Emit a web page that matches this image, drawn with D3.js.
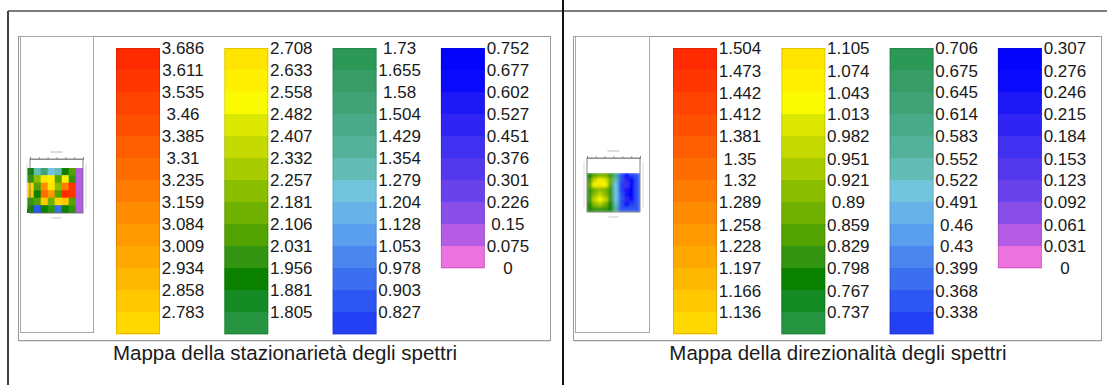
<!DOCTYPE html>
<html>
<head>
<meta charset="utf-8">
<script src="https://cdn.jsdelivr.net/npm/d3@7"></script>
<style>
  html, body { margin: 0; padding: 0; background: #fff; }
  svg { display: block; }
  text { font-family: "Liberation Sans", Arial, sans-serif; fill: #1a1a1a; }
</style>
</head>
<body>
<svg id="chart" width="1107" height="385"></svg>
<script>
// ---- Legend tick labels (top of each colour band), four columns per panel ----
const stazLabels = [
  ["3.686","3.611","3.535","3.46","3.385","3.31","3.235","3.159","3.084","3.009","2.934","2.858","2.783"],
  ["2.708","2.633","2.558","2.482","2.407","2.332","2.257","2.181","2.106","2.031","1.956","1.881","1.805"],
  ["1.73","1.655","1.58","1.504","1.429","1.354","1.279","1.204","1.128","1.053","0.978","0.903","0.827"],
  ["0.752","0.677","0.602","0.527","0.451","0.376","0.301","0.226","0.15","0.075","0"]
];
const dirLabels = [
  ["1.504","1.473","1.442","1.412","1.381","1.35","1.32","1.289","1.258","1.228","1.197","1.166","1.136"],
  ["1.105","1.074","1.043","1.013","0.982","0.951","0.921","0.89","0.859","0.829","0.798","0.767","0.737"],
  ["0.706","0.675","0.645","0.614","0.583","0.552","0.522","0.491","0.46","0.43","0.399","0.368","0.338"],
  ["0.307","0.276","0.246","0.215","0.184","0.153","0.123","0.092","0.061","0.031","0"]
];
// number of colour bands in each legend column
const bandsPerColumn = [13, 13, 13, 10];

// ---- Map values (rows top to bottom) ----
const stazMap = [
  [1.95, 1.30, 1.55, 1.25, 1.35, 1.95, 2.05, 0.10],
  [2.00, 2.25, 2.65, 2.60, 2.05, 2.60, 2.00, 0.10],
  [2.75, 2.10, 3.10, 2.70, 2.20, 3.20, 3.60, 0.10],
  [2.80, 1.95, 3.25, 3.05, 2.10, 3.65, 3.55, 0.10],
  [2.00, 2.05, 2.80, 2.15, 2.75, 2.85, 2.05, 0.10],
  [1.90, 0.90, 1.95, 2.00, 0.95, 1.95, 2.00, 0.10]
];
const dirMap = [
  [0.78, 0.84, 0.88, 0.86, 0.80, 0.60, 0.34, 0.30, 0.32, 0.34],
  [0.82, 0.98, 1.06, 1.00, 0.86, 0.55, 0.34, 0.20, 0.30, 0.34],
  [0.84, 1.04, 1.09, 1.02, 0.85, 0.52, 0.32, 0.18, 0.30, 0.35],
  [0.80, 0.88, 0.92, 0.88, 0.80, 0.50, 0.33, 0.22, 0.28, 0.34],
  [0.80, 0.90, 0.96, 0.90, 0.80, 0.50, 0.34, 0.25, 0.30, 0.35],
  [0.82, 0.98, 1.02, 0.96, 0.82, 0.52, 0.34, 0.20, 0.30, 0.34],
  [0.79, 0.90, 0.94, 0.88, 0.79, 0.55, 0.35, 0.28, 0.32, 0.35],
  [0.77, 0.80, 0.82, 0.80, 0.77, 0.58, 0.36, 0.34, 0.34, 0.36]
];

const titles = ["Mappa della stazionarietà degli spettri", "Mappa della direzionalità degli spettri"];

// ---- 49-step palette, from highest band to lowest ----
const palette = [
  "#ff2a00","#ff3600","#ff4300","#ff5000","#ff5e00","#ff6d00","#ff7c00","#ff8b00","#ff9a00","#ffa900","#ffb800","#ffc800","#ffd800",
  "#ffe400","#fff000","#fafa00","#dce800","#c4da00","#a8cc00","#8cbe00","#70b000","#52a200","#329410","#0a8200","#148a24","#249440",
  "#2c9858","#389c66","#40a276","#48aa88","#54b29a","#62bcb4","#72c4dc","#68b2ea","#5a9eee","#4a86ee","#3c6ef0","#2e56f2","#2440f4",
  "#0404fc","#0a0afc","#1e18f6","#3024f2","#4030f0","#5438ee","#6a42ec","#8a4ee8","#b45ce4","#ec72e0"
];

const svg = d3.select("#chart");

// ---- outer frame lines ----
svg.append("line").attr("x1", 8).attr("x2", 1107).attr("y1", 11).attr("y2", 11)
  .attr("stroke", "#505050").attr("stroke-width", 1.6);
svg.append("line").attr("x1", 8).attr("x2", 8).attr("y1", 11).attr("y2", 385)
  .attr("stroke", "#404040").attr("stroke-width", 2);
svg.append("line").attr("x1", 563).attr("x2", 563).attr("y1", 0).attr("y2", 385)
  .attr("stroke", "#111").attr("stroke-width", 2);

const panels = [
  { x0: 18,  x1: 550,  mapBox: [20, 93],  mapArea: [27, 83, 168, 213], frameTop: 159, labels: stazLabels, map: stazMap, barX: 116, title: titles[0], smooth: false },
  { x0: 573, x1: 1101, mapBox: [575, 649], mapArea: [587, 640, 173, 212], frameTop: 158, labels: dirLabels, map: dirMap, barX: 673, title: titles[1], smooth: true }
];

const barW = 44, barGap = 108.3, bandH = 22, barTop = 48;

panels.forEach((p, pi) => {
  const g = svg.append("g");
  const maxVal = parseFloat(p.labels[0][0]);
  const nBands = d3.sum(bandsPerColumn);
  const step = maxVal / nBands;

  // inner box
  g.append("rect").attr("x", p.x0 + 0.5).attr("y", 36.5).attr("width", p.x1 - p.x0).attr("height", 304)
    .attr("fill", "#fff").attr("stroke", "#9a9a9a").attr("stroke-width", 1);
  g.append("line").attr("x1", p.x0 + 1).attr("x2", p.x1).attr("y1", 341.5).attr("y2", 341.5)
    .attr("stroke", "#e2e2e2");

  // map sub-panel
  g.append("rect").attr("x", p.mapBox[0] + 0.5).attr("y", 36.5).attr("width", p.mapBox[1] - p.mapBox[0]).attr("height", 296)
    .attr("fill", "#fff").attr("stroke", "#a8a8a8");

  // colour lookup: band index from the top of the scale
  const colorOf = v => {
    let k = Math.floor((maxVal - v) / step);
    k = Math.max(0, Math.min(nBands - 1, k));
    return palette[k];
  };

  // ---- heat map thumbnail ----
  const [mx0, mx1, my0, my1] = p.mapArea;
  const rows = p.map.length, cols = p.map[0].length;
  const xs = d3.scaleBand().domain(d3.range(cols)).range([mx0, mx1]);
  const ys = d3.scaleBand().domain(d3.range(rows)).range([my0, my1]);

  const fid = "blur" + pi;
  const defs = svg.append("defs");
  defs.append("clipPath").attr("id", "clip" + pi).append("rect")
    .attr("x", mx0).attr("y", my0).attr("width", mx1 - mx0).attr("height", my1 - my0);
  defs.append("filter").attr("id", fid).attr("x", "-10%").attr("y", "-10%").attr("width", "120%").attr("height", "120%")
    .append("feGaussianBlur").attr("stdDeviation", p.smooth ? 1.6 : 0.6);

  const cells = g.append("g").attr("clip-path", `url(#clip${pi})`).append("g").attr("filter", `url(#${fid})`);
  p.map.forEach((row, r) => row.forEach((v, c) => {
    cells.append("rect")
      .attr("x", xs(c) - 0.3).attr("y", ys(r) - 0.3)
      .attr("width", xs.bandwidth() + 0.6).attr("height", ys.bandwidth() + 0.6)
      .attr("fill", colorOf(v));
  }));

  // little frame and top axis of the thumbnail
  const fx0 = mx0 + (pi === 0 ? 3 : 0), fx1 = mx1;
  g.append("rect").attr("x", fx0).attr("y", p.frameTop).attr("width", fx1 - fx0).attr("height", my1 - p.frameTop)
    .attr("fill", "none").attr("stroke", "#666").attr("stroke-width", 0.8);
  const tickScale = d3.scaleLinear().domain([0, 6]).range([fx0, fx1]);
  g.append("g").attr("transform", `translate(0,${p.frameTop})`)
    .call(d3.axisTop(tickScale).ticks(6).tickSize(2).tickFormat(""))
    .call(a => a.selectAll("line,path").attr("stroke", "#777").attr("stroke-width", 0.7));
  g.append("line").attr("x1", (fx0 + fx1) / 2 - 6).attr("x2", (fx0 + fx1) / 2 + 6)
    .attr("y1", p.frameTop - 7).attr("y2", p.frameTop - 7).attr("stroke", "#bbb").attr("stroke-width", 1);
  g.append("line").attr("x1", (fx0 + fx1) / 2 - 5).attr("x2", (fx0 + fx1) / 2 + 5)
    .attr("y1", my1 + 5).attr("y2", my1 + 5).attr("stroke", "#c8c8c8").attr("stroke-width", 1);
  g.append("line").attr("x1", fx0 - 3).attr("x2", fx0 - 3).attr("y1", p.frameTop + 4).attr("y2", my1 - 4)
    .attr("stroke", "#ddd").attr("stroke-width", 1);
  g.append("line").attr("x1", fx1 + 3).attr("x2", fx1 + 3).attr("y1", p.frameTop + 4).attr("y2", my1 - 4)
    .attr("stroke", "#ddd").attr("stroke-width", 1);

  // ---- colour legend columns ----
  let bandOffset = 0;
  p.labels.forEach((labs, ci) => {
    const n = bandsPerColumn[ci];
    const colTop = parseFloat(labs[0]);
    const y = d3.scaleLinear().domain([colTop, colTop - n * step]).range([barTop, barTop + n * bandH]);
    const bx = p.barX + ci * barGap;
    const col = g.append("g");
    d3.range(n).forEach(i => {
      const hi = colTop - i * step, lo = hi - step;
      col.append("rect")
        .attr("x", bx).attr("y", y(hi))
        .attr("width", barW).attr("height", y(lo) - y(hi) + 0.4)
        .attr("fill", palette[bandOffset + i]);
    });
    col.append("rect").attr("x", bx + 0.5).attr("y", barTop + 0.5).attr("width", barW - 1).attr("height", n * bandH - 1)
      .attr("fill", "none").attr("stroke", "rgba(0,0,0,0.12)");
    labs.forEach(t => {
      col.append("text")
        .attr("x", bx + 67).attr("y", y(parseFloat(t)) + 6.3)
        .attr("text-anchor", "middle")
        .attr("font-size", 17)
        .text(t);
    });
    bandOffset += n;
  });

  // ---- caption ----
  g.append("text")
    .attr("x", (p.x0 + p.x1) / 2 + 1).attr("y", 360)
    .attr("text-anchor", "middle")
    .attr("font-size", 20.5)
    .attr("fill", "#111")
    .text(p.title);
});
</script>
</body>
</html>
